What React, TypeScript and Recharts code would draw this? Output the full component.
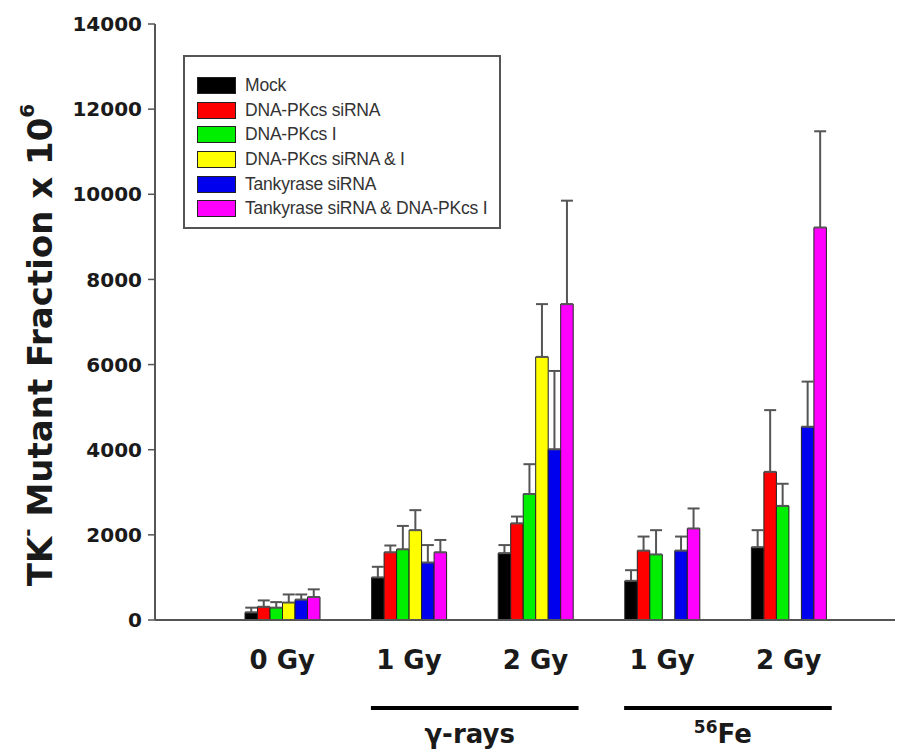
import React from "react";
import { BarChart, Bar, XAxis, YAxis, ErrorBar, Legend } from "recharts";

// ── Data ────────────────────────────────────────────────────────────

const DOSES = ["0 Gy", "1 Gy", "2 Gy", "1 Gy", "2 Gy"];
const SOURCES = ["", "γ-rays", "γ-rays", "Fe", "Fe"];

const MOCK = [180, 1000, 1570, 920, 1710];
const MOCK_ERR = [110, 250, 190, 250, 400];
const PK_SIRNA = [310, 1590, 2270, 1630, 3480];
const PK_SIRNA_ERR = [150, 160, 160, 330, 1450];
const PK_INHIB = [290, 1660, 2960, 1540, 2680];
const PK_INHIB_ERR = [130, 550, 700, 570, 520];
const PK_BOTH = [410, 2110, 6180, null, null];
const PK_BOTH_ERR = [190, 470, 1240, null, null];
const TANK_SIRNA = [480, 1350, 4010, 1630, 4540];
const TANK_SIRNA_ERR = [120, 410, 1840, 330, 1060];
const TANK_PK = [540, 1590, 7420, 2150, 9220];
const TANK_PK_ERR = [180, 290, 2430, 470, 2260];

const Y_TICKS = [0, 2000, 4000, 6000, 8000, 10000, 12000, 14000];

const SERIES = [
  { key: "mock", name: "Mock", color: "#000000", values: MOCK, errs: MOCK_ERR },
  { key: "pkSirna", name: "DNA-PKcs siRNA", color: "#ff0000", values: PK_SIRNA, errs: PK_SIRNA_ERR },
  { key: "pkInhib", name: "DNA-PKcs I", color: "#00ee00", values: PK_INHIB, errs: PK_INHIB_ERR },
  { key: "pkBoth", name: "DNA-PKcs siRNA & I", color: "#ffff00", values: PK_BOTH, errs: PK_BOTH_ERR },
  { key: "tankSirna", name: "Tankyrase siRNA", color: "#0000ee", values: TANK_SIRNA, errs: TANK_SIRNA_ERR },
  { key: "tankPk", name: "Tankyrase siRNA & DNA-PKcs I", color: "#ff00ff", values: TANK_PK, errs: TANK_PK_ERR },
];

const rows = DOSES.map((dose, i) => {
  const row: Record<string, any> = { dose, source: SOURCES[i] };
  SERIES.forEach((s) => {
    row[s.key] = s.values[i];
    row[s.key + "Err"] = s.errs[i];
  });
  return row;
});

// ── Styling ─────────────────────────────────────────────────────────

const AXIS_COLOR = "#555";
const TEXT_COLOR = "#1a1a1a";
const BOLD_FONT = "'DejaVu Sans', sans-serif";

// ── Ticks & labels ──────────────────────────────────────────────────

function DoseTick(props: any) {
  const { x, y, payload, index } = props;
  const half = payload?.offset ?? 63;
  const band = half * 2;
  const src = SOURCES[index];
  const startsGroup = src !== "" && SOURCES[index + 1] === src;
  return (
    <g>
      <text
        x={x}
        y={y + 49}
        textAnchor="middle"
        fontFamily={BOLD_FONT}
        fontWeight="bold"
        fontSize={26}
        fill={TEXT_COLOR}
      >
        {payload.value}
      </text>
      {startsGroup && (
        <g>
          <line
            x1={x - band * 0.3}
            x2={x + band * 1.34}
            y1={y + 88}
            y2={y + 88}
            stroke="#000"
            strokeWidth={4}
          />
          <text
            x={x + band * 0.48}
            y={y + 123}
            textAnchor="middle"
            fontFamily={BOLD_FONT}
            fontWeight="bold"
            fontSize={26}
            fill={TEXT_COLOR}
          >
            {src === "Fe" ? (
              <>
                <tspan fontSize={17} dy={-10}>56</tspan>
                <tspan dy={10}>Fe</tspan>
              </>
            ) : (
              src
            )}
          </text>
        </g>
      )}
    </g>
  );
}

function YLabel() {
  const cx = 32;
  const cy = 337;
  return (
    <text
      x={cx}
      y={cy}
      transform={`rotate(-90, ${cx}, ${cy})`}
      textAnchor="middle"
      dominantBaseline="central"
      fontFamily={BOLD_FONT}
      fontWeight="bold"
      fontSize={34}
      fill={TEXT_COLOR}
    >
      TK
      <tspan fontSize={20} dy={-13}>-</tspan>
      <tspan dy={13}> Mutant Fraction x 10</tspan>
      <tspan fontSize={20} dy={-13}>6</tspan>
    </text>
  );
}

// legend keeps the series order instead of recharts' sorted payload
function LegendBox() {
  return (
    <div
      style={{
        width: 318,
        height: 174,
        border: `2px solid ${AXIS_COLOR}`,
        background: "#fff",
        paddingTop: 16,
        boxSizing: "border-box",
        fontFamily: "'Liberation Sans', Arial, sans-serif",
        fontSize: 17.5,
        letterSpacing: -0.2,
        color: "#333",
      }}
    >
      {SERIES.map((s) => (
        <div key={s.key} style={{ display: "flex", alignItems: "center", height: 24.7, marginLeft: 12 }}>
          <span
            style={{
              display: "inline-block",
              width: 37,
              height: 15,
              background: s.color,
              border: "1px solid #222",
              marginRight: 9,
            }}
          />
          <span>{s.name}</span>
        </div>
      ))}
    </div>
  );
}

// ── Chart ───────────────────────────────────────────────────────────

export default function App() {
  return (
    <div style={{ width: 895, height: 743 }}>
      <BarChart
        width={895}
        height={743}
        data={rows}
        margin={{ top: 16, right: 0, left: 0, bottom: 0 }}
        barGap={0}
        barSize={12.5}
      >
        <XAxis
          xAxisId="top"
          orientation="top"
          dataKey="dose"
          tick={false}
          tickLine={false}
          height={0}
          axisLine={{ stroke: AXIS_COLOR, strokeWidth: 2 }}
        />
        <XAxis
          dataKey="dose"
          interval={0}
          height={131}
          padding={{ left: 64, right: 51 }}
          tickLine={false}
          tickSize={0}
          tickMargin={0}
          axisLine={{ stroke: AXIS_COLOR, strokeWidth: 2 }}
          tick={<DoseTick />}
        />
        <YAxis
          width={147}
          domain={[0, 14000]}
          ticks={Y_TICKS}
          interval={0}
          tickSize={7}
          tickMargin={6}
          axisLine={{ stroke: AXIS_COLOR, strokeWidth: 2 }}
          tickLine={{ stroke: AXIS_COLOR, strokeWidth: 1.5 }}
          tick={{ fill: TEXT_COLOR, fontSize: 20, fontWeight: "bold", fontFamily: BOLD_FONT }}
          label={<YLabel />}
        />
        <Legend
          layout="vertical"
          align="center"
          verticalAlign="middle"
          wrapperStyle={{ top: 47, left: 175, width: 322 }}
          content={<LegendBox />}
        />
        {SERIES.map((s) => (
          <Bar
            key={s.key}
            dataKey={s.key}
            name={s.name}
            fill={s.color}
            stroke="#222"
            strokeWidth={1}
            isAnimationActive={false}
          >
            <ErrorBar
              dataKey={(d: any) => (d[s.key + "Err"] == null ? null : [0, d[s.key + "Err"]])}
              width={6}
              stroke="#555"
              strokeWidth={2}
              direction="y"
              isAnimationActive={false}
            />
          </Bar>
        ))}
      </BarChart>
    </div>
  );
}
